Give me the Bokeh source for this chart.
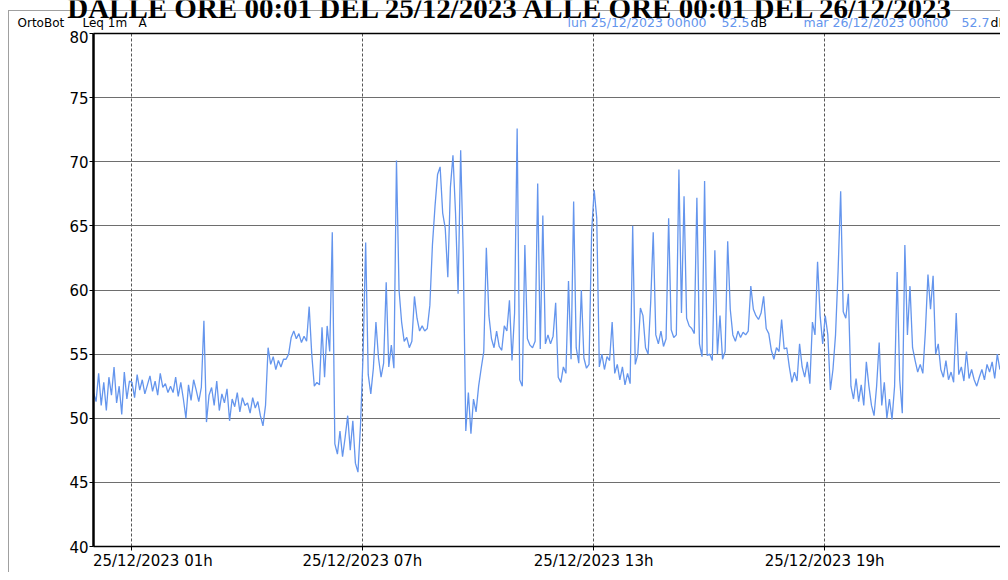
import pandas as pd
from bokeh.plotting import figure
from bokeh.layouts import column
from bokeh.models import ColumnDataSource, FixedTicker, LinearAxis
from bokeh.core.properties import value
from bokeh.embed import file_html
from bokeh.resources import INLINE

# ---------------- data (Leq 1m A, dB) ----------------
start = pd.Timestamp("2023-12-25 00:01")
end_view = pd.Timestamp("2023-12-25 23:34")
step_minutes = 4

leq_h00 = [52.0, 51.3, 53.5, 51.0, 52.8, 50.6, 53.2, 51.8, 54.0, 51.2, 52.5, 50.3, 53.6, 51.5, 52.9]
leq_h01 = [52.8, 51.6, 53.4, 52.2, 53.0, 51.9, 52.6, 53.3, 52.1, 52.9, 51.8, 53.5, 52.4, 52.7, 52.0]
leq_h02 = [52.5, 52.0, 53.2, 51.7, 52.8, 51.5, 50.0, 52.6, 51.4, 53.0, 52.2, 51.3, 52.4, 57.6, 49.7]
leq_h03 = [51.8, 52.4, 51.0, 52.9, 50.6, 51.9, 51.2, 52.3, 49.8, 51.5, 50.9, 52.0, 50.5, 51.6, 51.0]
leq_h04 = [51.2, 50.4, 51.6, 50.8, 51.3, 50.2, 49.4, 51.0, 55.5, 54.2, 54.8, 53.8, 54.5, 54.0, 54.6]
leq_h05 = [54.6, 55.0, 56.3, 56.8, 56.2, 56.6, 55.9, 56.4, 56.0, 58.7, 55.0, 52.5, 52.8, 52.6, 57.1]
leq_h06 = [53.2, 57.2, 55.2, 64.5, 48.0, 47.2, 49.0, 47.0, 48.5, 50.2, 47.5, 49.8, 46.5, 45.8, 49.5]
leq_h07 = [55.0, 63.7, 53.4, 51.9, 53.9, 57.5, 54.7, 53.2, 54.3, 60.6, 54.0, 55.7, 53.9, 70.1, 60.0]
leq_h08 = [57.5, 56.0, 56.3, 55.5, 56.0, 59.5, 57.8, 56.8, 57.2, 56.8, 57.0, 58.8, 63.5, 66.5, 69.0]
leq_h09 = [69.6, 66.0, 64.8, 61.0, 68.0, 70.5, 66.0, 59.7, 70.9, 62.8, 49.0, 52.0, 48.8, 51.5, 50.5]
leq_h10 = [52.5, 53.9, 55.2, 63.3, 58.0, 56.2, 55.5, 56.8, 55.6, 55.3, 57.2, 56.8, 59.2, 54.5, 58.2]
leq_h11 = [72.6, 53.0, 52.5, 63.5, 56.2, 55.7, 55.5, 56.0, 68.3, 55.4, 65.8, 55.8, 56.5, 55.8, 56.4]
leq_h12 = [59.0, 53.2, 52.8, 54.0, 53.5, 60.7, 54.6, 66.9, 55.5, 54.3, 60.0, 54.7, 53.9, 54.2, 64.5]
leq_h13 = [67.8, 65.6, 54.0, 55.0, 53.8, 54.8, 54.5, 57.5, 53.5, 54.2, 53.0, 54.0, 52.6, 53.5, 52.7]
leq_h14 = [65.0, 54.2, 55.0, 58.6, 58.0, 55.5, 55.0, 59.0, 64.5, 56.5, 55.8, 56.8, 55.6, 56.2, 65.6]
leq_h15 = [56.9, 56.3, 56.5, 69.4, 58.2, 67.3, 57.8, 57.2, 57.0, 56.6, 67.2, 55.8, 54.8, 68.5, 54.9]
leq_h16 = [55.0, 54.5, 63.1, 55.0, 58.0, 54.6, 55.2, 63.8, 58.5, 56.5, 56.0, 56.8, 56.3, 56.7, 56.5]
leq_h17 = [56.8, 60.3, 58.5, 58.0, 57.7, 58.2, 59.5, 57.0, 56.6, 55.3, 54.6, 55.5, 55.2, 57.7, 55.4]
leq_h18 = [55.5, 54.0, 52.8, 53.6, 52.9, 55.8, 54.0, 53.2, 54.4, 52.7, 57.5, 56.5, 62.2, 58.0, 55.8]
leq_h19 = [58.0, 56.5, 52.2, 53.8, 56.5, 61.5, 67.7, 58.3, 57.8, 59.7, 52.5, 51.5, 53.1, 51.3, 52.6]
leq_h20 = [51.0, 54.4, 52.5, 51.0, 50.2, 52.5, 55.9, 51.0, 52.8, 50.0, 51.5, 49.9, 52.5, 61.4, 53.0]
leq_h21 = [50.4, 63.5, 56.5, 60.3, 55.5, 54.5, 53.6, 54.2, 53.5, 56.8, 61.2, 58.5, 61.1, 55.0, 55.8]
leq_h22 = [53.8, 53.2, 54.5, 53.0, 53.6, 52.8, 58.2, 53.4, 54.0, 52.9, 55.2, 53.1, 53.8, 53.0, 52.5]
leq_h23 = [53.2, 53.8, 53.0, 54.2, 53.6, 54.4, 53.1, 55.0, 53.8, 54.3, 53.3, 54.6, 53.0, 54.0]

y_ticks = [40, 45, 50, 55, 60, 65, 70, 75, 80]
x_tick_times = ["2023-12-25 01:00", "2023-12-25 07:00", "2023-12-25 13:00", "2023-12-25 19:00"]
x_tick_labels = ["25/12/2023 01h", "25/12/2023 07h", "25/12/2023 13h", "25/12/2023 19h"]

title_text = "DALLE ORE 00:01 DEL 25/12/2023 ALLE ORE 00:01 DEL 26/12/2023"
header_left = ["OrtoBot", "Leq 1m", "A"]
header_right = ["lun 25/12/2023 00h00", "52.5", "dB", "mar 26/12/2023 00h00", "52.7", "dB"]

# ---------------------------------------------------
leq = (leq_h00 + leq_h01 + leq_h02 + leq_h03 + leq_h04 + leq_h05 + leq_h06 + leq_h07 +
       leq_h08 + leq_h09 + leq_h10 + leq_h11 + leq_h12 + leq_h13 + leq_h14 + leq_h15 +
       leq_h16 + leq_h17 + leq_h18 + leq_h19 + leq_h20 + leq_h21 + leq_h22 + leq_h23)
times = [start + pd.Timedelta(minutes=step_minutes * i) for i in range(len(leq))]

def ms(ts):
    return pd.Timestamp(ts).value / 1e6

LINE_BLUE = "#6495ED"
FONT = "DejaVu Sans"
GRAY = "#a0a0a0"
W = 1000
HEAD_H = 30
MAIN_H = 542

# ---------------- header strip (title + info line) ----------------
head = figure(width=W, height=HEAD_H, x_range=(0, W), y_range=(HEAD_H, 0),
              x_axis_location=None, y_axis_location=None,
              output_backend="svg", toolbar_location=None,
              min_border=0, min_border_left=0, min_border_right=0,
              min_border_top=0, min_border_bottom=0)
head.frame_align = False
head.grid.visible = False
head.outline_line_color = None
head.background_fill_color = None
head.border_fill_color = None
head.styles = {"background": f"linear-gradient({GRAY}, {GRAY}) 8px 10px / 1px calc(100% - 10px) no-repeat, "
                             f"linear-gradient({GRAY}, {GRAY}) 8px 10px / calc(100% - 8px) 1px no-repeat, #ffffff"}

# title: only its lower part is visible, as in the reference
head.text(x=[511], y=[7.7], text=[title_text], text_font=value("Liberation Serif"),
          text_font_style="bold", text_font_size="29px", text_align="center",
          text_baseline="middle", text_color="black")
head.text(x=[17, 82, 138], y=[22.3] * 3, text=header_left, text_font=value(FONT),
          text_font_size="12px", text_align="left", text_baseline="middle", text_color="black")
head.text(x=[567, 721, 750, 803, 961, 990], y=[22.3] * 6, text=header_right, text_font=value(FONT),
          text_font_size="12.5px", text_align="left", text_baseline="middle",
          text_color=[LINE_BLUE, LINE_BLUE, "black", LINE_BLUE, LINE_BLUE, "black"])

# ---------------- main chart ----------------
src = ColumnDataSource(dict(t=times, v=leq))

p = figure(width=W, height=MAIN_H, x_axis_type="datetime",
           x_range=(start.to_pydatetime(), end_view.to_pydatetime()), y_range=(40, 80),
           output_backend="svg", toolbar_location=None,
           min_border_left=93, min_border_right=0, min_border_top=3, min_border_bottom=10)
p.frame_align = False
p.styles = {"background": f"linear-gradient({GRAY}, {GRAY}) 8px 0 / 1px 100% no-repeat, #ffffff"}
p.background_fill_color = "white"
p.border_fill_color = None
p.outline_line_color = None

p.line("t", "v", source=src, line_color=LINE_BLUE, line_width=1.3)

p.yaxis.ticker = FixedTicker(ticks=y_ticks)
p.yaxis.major_label_text_font = FONT
p.yaxis.major_label_text_font_size = "15px"
p.yaxis.major_label_text_color = "black"
p.yaxis.major_label_standoff = 1
p.yaxis.major_tick_out = 4
p.yaxis.major_tick_in = 0
p.yaxis.minor_tick_line_color = None
p.yaxis.axis_line_width = 2.5
p.yaxis.axis_line_color = "black"
p.yaxis.major_tick_line_color = "black"

NBSP = "\u00a0"
x_ticks_ms = [ms(t) for t in x_tick_times]
overrides = {x_ticks_ms[0]: NBSP * 9 + x_tick_labels[0]}
for tm, lab in zip(x_ticks_ms[1:], x_tick_labels[1:]):
    overrides[tm] = lab
p.xaxis.ticker = FixedTicker(ticks=x_ticks_ms)
p.xaxis.major_label_overrides = overrides
p.xaxis.major_label_text_font = FONT
p.xaxis.major_label_text_font_size = "15px"
p.xaxis.major_label_text_color = "black"
p.xaxis.major_label_standoff = 1
p.xaxis.major_tick_out = 4
p.xaxis.major_tick_in = 0
p.xaxis.minor_tick_line_color = None
p.xaxis.axis_line_width = 1.5
p.xaxis.axis_line_color = "black"

top_axis = LinearAxis(ticker=FixedTicker(ticks=[]), axis_line_color="black", axis_line_width=1.5,
                      major_tick_out=0, major_tick_in=0, major_label_standoff=0,
                      major_tick_line_color=None, minor_tick_line_color=None)
p.add_layout(top_axis, "above")

p.ygrid.grid_line_color = "#6e6e6e"
p.ygrid.grid_line_width = 1
p.xgrid.grid_line_color = "#555555"
p.xgrid.grid_line_dash = "3 2"
p.xgrid.grid_line_width = 1

layout = column(head, p, spacing=0)
open("out.html", "w").write(file_html(layout, INLINE))
